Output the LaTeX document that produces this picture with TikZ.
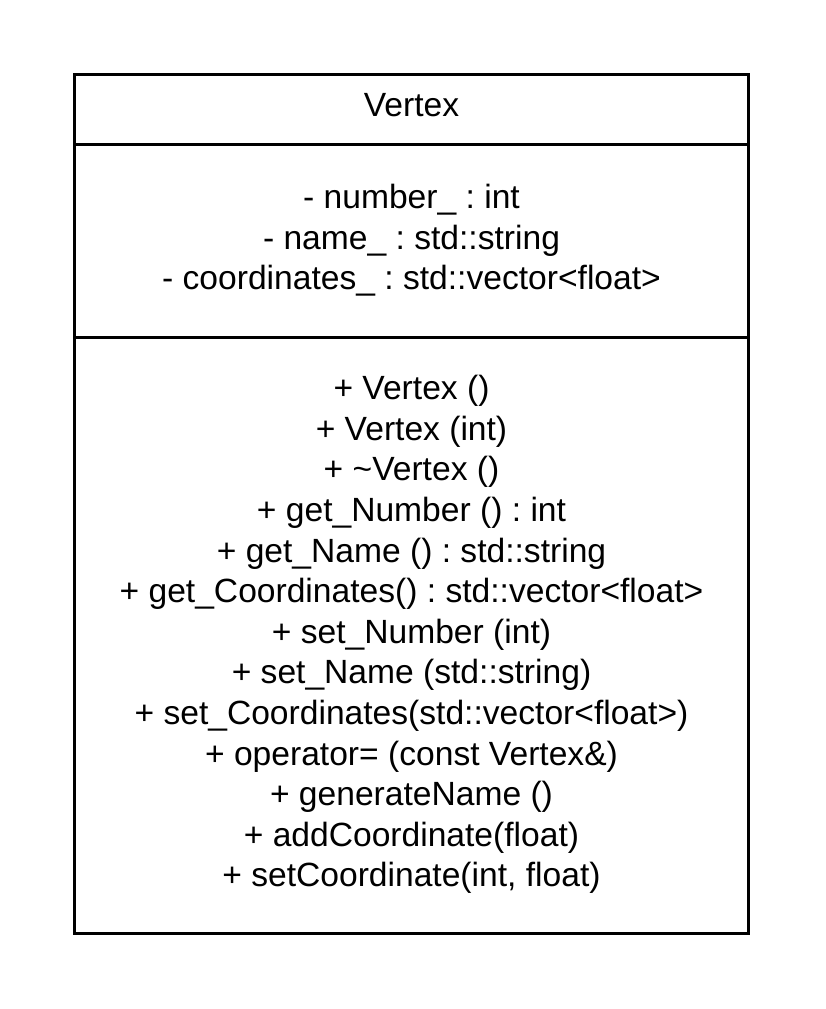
\documentclass[tikz,border=0pt]{standalone}
\usepackage{fontspec}
\setmainfont{Liberation Sans}
\frenchspacing

\begin{document}
\begin{tikzpicture}[x=0.75pt, y=-0.75pt]
    \useasboundingbox (0,0) rectangle (825,1009);
    % 枠
    \draw[line width=2.25pt] (74.5,74.5) rectangle (748.5,933.5);
    \coordinate (L1) at (74.5,145);
    \coordinate (R1) at (748.5,145);
    \coordinate (L2) at (74.5,337);
    \coordinate (R2) at (748.5,337);
    \draw[line width=2.25pt] (L1) -- (R1);
    \draw[line width=2.25pt] (L2) -- (R2);

    % クラス名
    \node[font=\fontsize{25.2}{30.45}\selectfont, inner sep=0pt] (name) at (411.5,105.5) {Vertex};
    % 属性
    \node[font=\fontsize{25.2}{30.45}\selectfont, inner sep=0pt, align=center] (attrs) at (411.5,240.5)
      {- number\_ : int\\
       - name\_ : std::string\\
       - coordinates\_ : std::vector<float>};
    % 操作
    \node[font=\fontsize{25.2}{30.45}\selectfont, inner sep=0pt, align=center] (ops) at (411.5,634.5)
      {+ Vertex ()\\
       + Vertex (int)\\
       + \textasciitilde Vertex ()\\
       + get\_Number () : int\\
       + get\_Name () : std::string\\
       + get\_Coordinates() : std::vector<float>\\
       + set\_Number (int)\\
       + set\_Name (std::string)\\
       + set\_Coordinates(std::vector<float>)\\
       + operator= (const Vertex\&)\\
       + generateName ()\\
       + addCoordinate(float)\\
       + setCoordinate(int, float)};
\end{tikzpicture}
\end{document}
